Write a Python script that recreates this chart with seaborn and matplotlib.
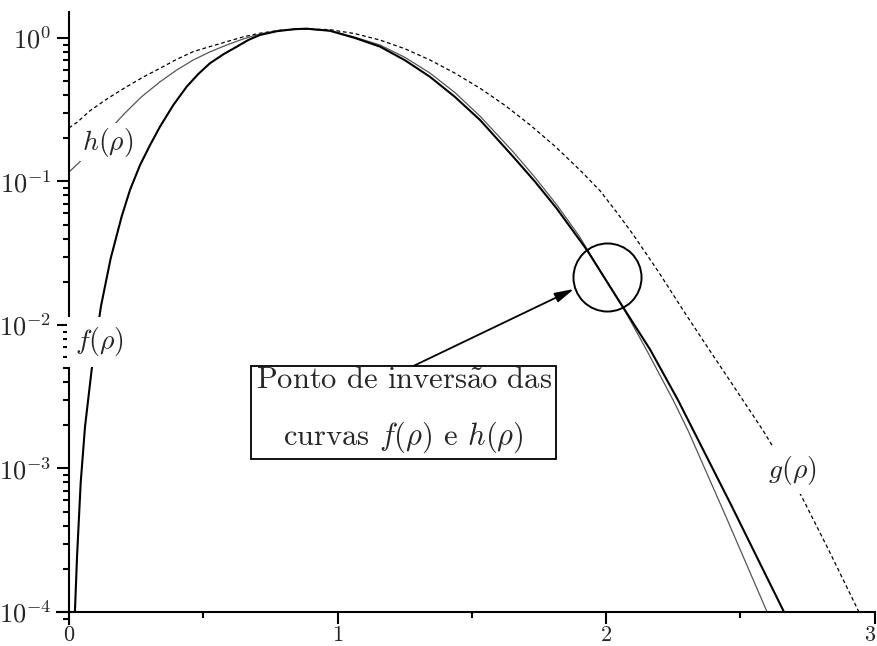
import matplotlib
matplotlib.use("Agg")
import matplotlib.pyplot as plt
import matplotlib.ticker as mticker
import matplotlib.transforms as mtransforms
import pandas as pd
import seaborn as sns

# f(rho): thick solid curve
rho_f = [0.022, 0.030, 0.0435, 0.0596, 0.0845, 0.119, 0.155, 0.196, 0.2272, 0.2644,
         0.3017, 0.3389, 0.3885, 0.4384, 0.4816, 0.5251, 0.5747, 0.6246, 0.6678, 0.7114,
         0.7736, 0.8354, 0.8853, 0.972, 1.065, 1.158, 1.251, 1.344, 1.437, 1.531,
         1.654, 1.735, 1.816, 1.929, 2.063, 2.164, 2.268, 2.466, 2.663]
f_vals = [1.00e-4, 2.45e-4, 7.94e-4, 1.95e-3, 4.90e-3, 1.35e-2, 2.90e-2, 5.69e-2, 8.73e-2, 0.130,
          0.179, 0.241, 0.341, 0.458, 0.561, 0.667, 0.769, 0.869, 0.968, 1.050,
          1.114, 1.151, 1.161, 1.122, 1.000, 0.871, 0.700, 0.537, 0.389, 0.268,
          0.149, 0.100, 0.0650, 0.0333, 0.01334, 6.76e-3, 3.00e-3, 5.57e-4, 1.00e-4]

# h(rho): thin grey curve
rho_h = [0.0, 0.035, 0.2086, 0.27, 0.339, 0.40, 0.463, 0.525, 0.587, 0.65,
         0.711, 0.79, 0.87, 0.972, 1.065, 1.158, 1.251, 1.344, 1.437, 1.531,
         1.654, 1.735, 1.817, 1.90, 1.981, 2.07, 2.151, 2.250, 2.305, 2.45, 2.600]
h_vals = [0.1164, 0.134, 0.300, 0.389, 0.495, 0.596, 0.703, 0.800, 0.893, 0.986,
          1.067, 1.127, 1.156, 1.127, 1.012, 0.894, 0.733, 0.570, 0.417, 0.285,
          0.161, 0.107, 0.0686, 0.0417, 0.0234, 0.0126, 6.70e-3, 3.00e-3, 1.85e-3, 4.47e-4, 1.00e-4]

# g(rho): dashed curve
rho_g = [0.0, 0.033, 0.078, 0.145, 0.215, 0.277, 0.339, 0.40, 0.463, 0.525,
         0.587, 0.65, 0.711, 0.79, 0.87, 0.972, 1.065, 1.158, 1.251, 1.344,
         1.437, 1.531, 1.624, 1.717, 1.810, 1.903, 1.978, 2.040, 2.101, 2.194,
         2.287, 2.380, 2.473, 2.585, 2.660, 2.730, 2.830, 2.942]
g_vals = [0.236, 0.261, 0.311, 0.380, 0.458, 0.535, 0.615, 0.708, 0.804, 0.871,
          0.942, 1.019, 1.079, 1.135, 1.156, 1.143, 1.072, 0.968, 0.841, 0.703,
          0.569, 0.446, 0.339, 0.248, 0.176, 0.120, 0.0861, 0.0610, 0.0427, 0.0237,
          0.0127, 6.92e-3, 3.80e-3, 1.84e-3, 1.08e-3, 6.31e-4, 2.69e-4, 1.00e-4]

# crossing point of f and h, highlighted by a circle
circle_rho = [2.004]
circle_val = [0.0216]

x_ticks = [0, 1, 2, 3]
x_tick_labels = ["0", "1", "2", "3"]
x_minor = [0.5, 1.5, 2.5]
y_ticks = [1e-4, 1e-3, 1e-2, 1e-1, 1e0]
y_tick_labels = [r"$10^{-4}$", r"$10^{-3}$", r"$10^{-2}$", r"$10^{-1}$", r"$10^{0}$"]

sns.set_theme(style="ticks")
plt.rcParams.update({
    "font.family": ["cmr10", "DejaVu Serif"],
    "mathtext.fontset": "cm",
    "axes.unicode_minus": False,
    "axes.formatter.use_mathtext": True,
})

W, H = 878, 646
fig = plt.figure(figsize=(W / 100, H / 100), dpi=100)
ax = fig.add_axes([57 / W, (H - 624) / H, (874.5 - 57) / W, (624 - 12) / H])
ax.set_yscale("log")

df_f = pd.DataFrame({"rho": rho_f, "val": f_vals})
df_h = pd.DataFrame({"rho": rho_h, "val": h_vals})
df_g = pd.DataFrame({"rho": rho_g, "val": g_vals})

sns.lineplot(data=df_g, x="rho", y="val", ax=ax, color="black", lw=0.9,
             linestyle=(0, (3, 2.2)), sort=False, estimator=None, zorder=2)
sns.lineplot(data=df_h, x="rho", y="val", ax=ax, color="#555555", lw=0.9,
             sort=False, estimator=None, zorder=2)
sns.lineplot(data=df_f, x="rho", y="val", ax=ax, color="black", lw=1.5,
             sort=False, estimator=None, zorder=2)

ax.plot(circle_rho, circle_val, marker="o", ms=49, mfc="none", mec="black",
        mew=1.4, ls="none", zorder=2)

ax.set_xlim(-12 / 268.5, 3.0)
ax.set_ylim(10 ** -4.0836, 10 ** 0.181)

for side in ("top", "right"):
    ax.spines[side].set_visible(False)
ax.spines["left"].set_position(("data", 0))
ax.spines["bottom"].set_position(("data", 1e-4))
for side in ("left", "bottom"):
    ax.spines[side].set_linewidth(1.5)
    ax.spines[side].set_color("black")

ax.xaxis.set_major_locator(mticker.FixedLocator(x_ticks))
ax.xaxis.set_major_formatter(mticker.FixedFormatter(x_tick_labels))
ax.xaxis.set_minor_locator(mticker.FixedLocator(x_minor))
ax.yaxis.set_major_locator(mticker.FixedLocator(y_ticks))
ax.yaxis.set_major_formatter(mticker.FixedFormatter(y_tick_labels))
ax.yaxis.set_minor_locator(mticker.LogLocator(base=10, subs=range(2, 10), numticks=20))
ax.yaxis.set_minor_formatter(mticker.NullFormatter())

ax.tick_params(which="major", direction="out", length=8.6, width=1.5, color="black")
ax.tick_params(which="minor", direction="out", length=4.3, width=1.5, color="black")
ax.tick_params(axis="x", which="major", labelsize=16, pad=1)
ax.tick_params(axis="y", which="major", labelsize=19, pad=4)
ax.set_xlabel("")
ax.set_ylabel("")

# keep the last x tick label inside the right edge of the figure
last_label = ax.xaxis.get_major_ticks()[-1].label1
last_label.set_transform(last_label.get_transform()
                         + mtransforms.ScaledTranslation(-5 / 100, 0, fig.dpi_scale_trans))

ax.text(0.145, 10 ** -0.725, r"$h(\rho)$", fontsize=20, ha="center", va="center",
        bbox=dict(fc="white", ec="none", pad=2), zorder=3)
ax.text(0.115, 10 ** -2.118, r"$f(\rho)$", fontsize=20, ha="center", va="center",
        bbox=dict(fc="white", ec="none", pad=6), zorder=3)
ax.text(2.693, 10 ** -3.017, r"$g(\rho)$", fontsize=20, ha="center", va="center",
        bbox=dict(fc="white", ec="none", pad=5), zorder=3)

ax.annotate("Ponto de invers$\\tilde{\\mathrm{a}}$o das\ncurvas $f(\\rho)$ e $h(\\rho)$",
            xy=(1.881, 10 ** -1.749), xytext=(1.246, 10 ** -2.596),
            ha="center", va="center", fontsize=22, linespacing=2.0,
            bbox=dict(boxstyle="square,pad=0.14", fc="white", ec="black", lw=1.3),
            arrowprops=dict(arrowstyle="-|>,head_length=0.58,head_width=0.15",
                            mutation_scale=20, color="black", lw=1.3,
                            relpos=(0.53, 1.0), shrinkA=0, shrinkB=0),
            zorder=4)

fig.savefig("out.png", dpi=100)
